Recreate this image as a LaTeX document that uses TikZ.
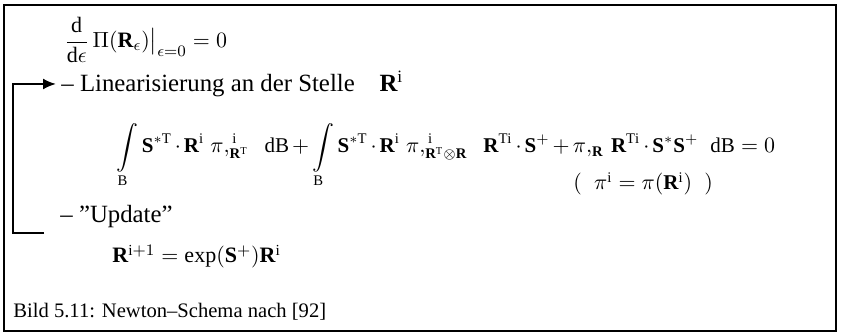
\documentclass[tikz,border=0pt]{standalone}
\usepackage{amsmath}
\usepackage{fontspec}
\setmainfont{Liberation Serif}
\usepackage{tikz}
\usetikzlibrary{arrows.meta}
\newcommand{\bR}{\mathbf{R}}
\newcommand{\bS}{\mathbf{S}}
\newcommand{\ri}{\mathrm{i}}
\begin{document}
\begin{tikzpicture}[x=0.5pt,y=-0.5pt,font=\fontsize{12.4}{14}\selectfont,
  txt/.style={anchor=base west,inner sep=0pt},
  mth/.style={font=\fontsize{11}{13}\selectfont},
  eqn/.style={font=\fontsize{10.5}{12}\selectfont,execute at begin node={\medmuskip=2.5mu}},
  fb/.style={line width=1pt,-{Latex[length=6.5pt,width=5.5pt]}}]
  \useasboundingbox(0,0)rectangle(841,335);
  \draw[line width=1.2pt](4,5)rectangle(836,331);
  \node[anchor=west,inner sep=0pt,mth](var)at(64,40){$\dfrac{\mathrm{d}}{\mathrm{d}\epsilon}\,\Pi(\bR_{\epsilon})\big|_{\epsilon=0}=0$};
  \node[anchor=west,inner xsep=2.5pt,inner ysep=0pt](lin)at(56,84){-- Linearisierung an der Stelle\quad$\bR^{\ri}$};
  \node[txt,eqn](lineq)at(116,153){$\displaystyle\int\limits_{\mathrm{B}}\bS^{*\mathrm{T}}\cdot\bR^{\ri}\;\pi,^{\,\ri}_{\bR^{\mathrm{T}}}\;\;\mathrm{dB}+\int\limits_{\mathrm{B}}\bS^{*\mathrm{T}}\cdot\bR^{\ri}\;\pi,^{\,\ri}_{\bR^{\mathrm{T}}\otimes\bR}\;\;\bR^{\mathrm{Ti}}\cdot\bS^{+}+\pi,_{\bR}\,\bR^{\mathrm{Ti}}\cdot\bS^{*}\bS^{+}\;\;\mathrm{dB}=0$};
  \node[txt,eqn](pii)at(573,190){$(\;\;\pi^{\ri}=\pi(\bR^{\ri})\;\;)$};
  \node[txt](upd)at(60,223){-- ''Update''};
  \node[txt,mth](upd2)at(112,263){$\bR^{\ri+1}=\exp(\bS^{+})\bR^{\ri}$};
  \node[txt,font=\fontsize{10.3}{12}\selectfont](cap)at(13,318){Bild 5.11: Newton--Schema nach [92]};
  \coordinate(loopend)at(44,233);
  \coordinate(loopup)at(13,84);
  \draw[fb](loopend)-|(loopup)--(lin.west);
\end{tikzpicture}
\end{document}
